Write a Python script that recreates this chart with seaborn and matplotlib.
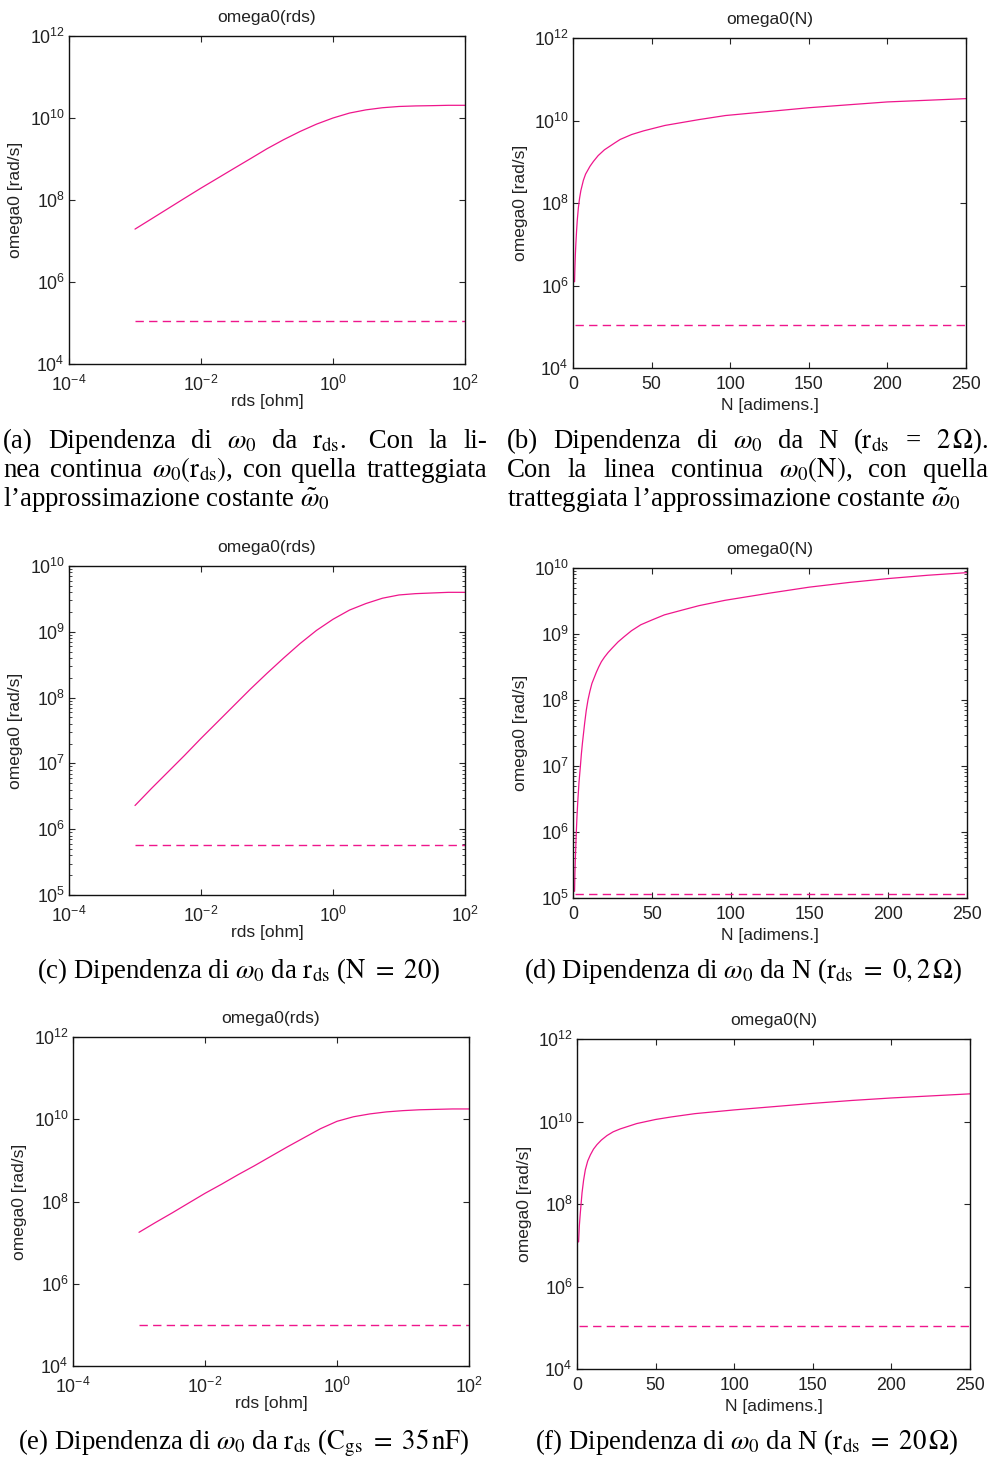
import matplotlib
matplotlib.use('Agg')
import matplotlib.pyplot as plt
import matplotlib.ticker as mticker
import seaborn as sns

# ── Valori ──────────────────────────────────────────────────────────────
rds = [1e-3, 1.78e-3, 3.16e-3, 5.62e-3, 1e-2, 1.78e-2, 3.16e-2, 5.62e-2,
       0.1, 0.178, 0.316, 0.562, 1.0, 1.78, 3.16, 5.62, 10.0, 17.8, 31.6, 56.2, 100.0]

omega_rds_a = [1.95e7, 3.47e7, 6.17e7, 1.10e8, 1.95e8, 3.39e8, 5.89e8, 1.02e9,
               1.78e9, 2.95e9, 4.68e9, 7.08e9, 1.00e10, 1.32e10, 1.58e10, 1.78e10,
               1.91e10, 1.97e10, 2.00e10, 2.04e10, 2.04e10]
omega_rds_c = [2.29e6, 4.17e6, 7.41e6, 1.32e7, 2.40e7, 4.27e7, 7.59e7, 1.35e8,
               2.34e8, 3.98e8, 6.61e8, 1.05e9, 1.55e9, 2.14e9, 2.69e9, 3.24e9,
               3.63e9, 3.80e9, 3.89e9, 3.98e9, 3.98e9]
omega_rds_e = [1.78e7, 3.09e7, 5.25e7, 9.12e7, 1.58e8, 2.63e8, 4.47e8, 7.41e8,
               1.26e9, 2.14e9, 3.55e9, 5.89e9, 8.91e9, 1.15e10, 1.35e10, 1.51e10,
               1.62e10, 1.70e10, 1.74e10, 1.78e10, 1.78e10]

rds_costante = [1e-3, 1e2]
costante_a = [1.1e5, 1.1e5]
costante_c = [5.75e5, 5.75e5]
costante_e = [1.0e5, 1.0e5]

N_b = [1, 1.2, 1.5, 1.8, 2.3, 2.7, 3.4, 4.2, 5, 6.6, 8, 10.8, 13, 16, 20, 26.7,
       30, 37.3, 45, 58.5, 80, 97, 125, 150, 175, 200, 225, 250]
omega_N_b = [1.23e6, 2.51e6, 5.62e6, 1.0e7, 2.19e7, 3.72e7, 7.59e7, 1.32e8,
             2.0e8, 3.55e8, 5.01e8, 7.76e8, 1.02e9, 1.41e9, 1.95e9, 2.88e9,
             3.47e9, 4.57e9, 5.62e9, 7.59e9, 1.05e10, 1.32e10, 1.66e10, 2.04e10,
             2.40e10, 2.82e10, 3.09e10, 3.39e10]

N_d = [1, 1.2, 1.5, 2.1, 2.5, 3, 3.8, 4.7, 5.3, 6, 7.4, 8.4, 9.5, 10.7, 12, 14.8,
       16.3, 18, 20, 22.3, 25, 28.6, 32.5, 37.1, 43, 49.8, 58, 68.9, 80, 96.5,
       125, 150, 175, 200, 225, 250]
omega_N_d = [1.26e5, 2.24e5, 3.98e5, 1.0e6, 1.66e6, 2.82e6, 5.62e6, 1.0e7,
             1.51e7, 2.24e7, 4.47e7, 6.92e7, 1.0e8, 1.35e8, 1.78e8, 2.63e8,
             3.16e8, 3.80e8, 4.47e8, 5.25e8, 6.17e8, 7.59e8, 9.12e8, 1.12e9,
             1.38e9, 1.62e9, 1.95e9, 2.29e9, 2.69e9, 3.24e9,
             4.17e9, 5.13e9, 6.03e9, 6.92e9, 7.76e9, 8.51e9]

N_f = [1, 1.5, 2.1, 3.2, 4.2, 5.3, 6.8, 8.5, 10.5, 12.7, 15.5, 19.1, 23, 27.5,
       38, 50, 60, 75, 100, 125, 150, 175, 200, 225, 250]
omega_N_f = [1.20e7, 3.0e7, 6.03e7, 1.86e8, 3.80e8, 6.76e8, 1.10e9, 1.55e9,
             2.14e9, 2.75e9, 3.55e9, 4.57e9, 5.62e9, 6.61e9, 8.91e9, 1.12e10,
             1.29e10, 1.55e10, 1.91e10, 2.29e10, 2.75e10, 3.24e10, 3.72e10,
             4.17e10, 4.68e10]

N_costante = [1, 250]
costante_b = [1.1e5, 1.1e5]
costante_d = [1.15e5, 1.15e5]
costante_f = [1.1e5, 1.1e5]

# ── Stile ────────────────────────────────────────────────────────────────
sns.set_theme(style='ticks')
plt.rcParams['font.family'] = ['Liberation Sans', 'DejaVu Sans']
plt.rcParams['axes.linewidth'] = 1.0
plt.rcParams['axes.edgecolor'] = '#111111'
plt.rcParams['axes.unicode_minus'] = False
plt.rcParams['text.color'] = '#222222'

ROSA = '#ef168c'
W, H = 991, 1459
fig = plt.figure(figsize=(W / 100, H / 100), dpi=100)
fig.patch.set_facecolor('white')


def nuovo_asse(left, right, top, bottom):
    return fig.add_axes([left / W, 1 - bottom / H, (right - left) / W, (bottom - top) / H])


def pannello(ax, x, y, xc, yc, titolo, xlabel, log_x, ylim, yticks, minori):
    ax.set_yscale('log')
    if log_x:
        ax.set_xscale('log')
    sns.lineplot(x=x, y=y, ax=ax, color=ROSA, lw=0.9, sort=False, estimator=None)
    sns.lineplot(x=xc, y=yc, ax=ax, color=ROSA, lw=1.0, sort=False, estimator=None,
                 linestyle=(0, (6.0, 3.8)))
    ax.set_facecolor('white')
    ax.set_ylim(*ylim)
    ax.set_yticks(yticks)
    ax.yaxis.set_major_formatter(mticker.LogFormatterSciNotation())
    if minori:
        ax.yaxis.set_minor_locator(mticker.LogLocator(base=10, subs=range(2, 10)))
    else:
        ax.yaxis.set_minor_locator(mticker.NullLocator())
    ax.yaxis.set_minor_formatter(mticker.NullFormatter())
    if log_x:
        ax.set_xlim(1e-4, 1e2)
        ax.set_xticks([1e-4, 1e-2, 1, 1e2])
        ax.xaxis.set_major_formatter(mticker.LogFormatterSciNotation())
        ax.xaxis.set_minor_locator(mticker.NullLocator())
        xpad = 7.5
    else:
        ax.set_xlim(0, 250)
        ax.set_xticks([0, 50, 100, 150, 200, 250])
        xpad = 5.5
    ax.tick_params(which='major', direction='in', top=True, right=True, length=4,
                   width=0.8, labelsize=12.8, labelcolor='#222222')
    ax.tick_params(which='minor', direction='in', top=False, right=True, length=2,
                   width=0.6)
    ax.tick_params(axis='x', which='major', pad=xpad)
    ax.tick_params(axis='y', which='major', pad=3)
    ax.set_title(titolo, fontsize=12.5, pad=10, color='#222222')
    ax.set_xlabel(xlabel, fontsize=12.5, color='#222222')
    ax.set_ylabel('omega0 [rad/s]', fontsize=12.5, color='#222222')
    ax.xaxis.set_label_coords(0.5, -0.092)
    ax.yaxis.set_label_coords(-0.115, 0.5)
    for s in ax.spines.values():
        s.set_visible(True)


ax_a = nuovo_asse(69, 465, 36, 364)
pannello(ax_a, rds, omega_rds_a, rds_costante, costante_a, 'omega0(rds)', 'rds [ohm]',
         True, (1e4, 1e12), [1e4, 1e6, 1e8, 1e10, 1e12], False)
ax_b = nuovo_asse(573, 966, 38, 368)
pannello(ax_b, N_b, omega_N_b, N_costante, costante_b, 'omega0(N)', 'N [adimens.]',
         False, (1e4, 1e12), [1e4, 1e6, 1e8, 1e10, 1e12], False)
ax_c = nuovo_asse(69, 465, 566, 895)
pannello(ax_c, rds, omega_rds_c, rds_costante, costante_c, 'omega0(rds)', 'rds [ohm]',
         True, (1e5, 1e10), [1e5, 1e6, 1e7, 1e8, 1e9, 1e10], True)
ax_d = nuovo_asse(573, 967, 568, 898)
pannello(ax_d, N_d, omega_N_d, N_costante, costante_d, 'omega0(N)', 'N [adimens.]',
         False, (1e5, 1e10), [1e5, 1e6, 1e7, 1e8, 1e9, 1e10], True)
ax_e = nuovo_asse(73, 469, 1037, 1366)
pannello(ax_e, rds, omega_rds_e, rds_costante, costante_e, 'omega0(rds)', 'rds [ohm]',
         True, (1e4, 1e12), [1e4, 1e6, 1e8, 1e10, 1e12], False)
ax_f = nuovo_asse(577, 970, 1039, 1369)
pannello(ax_f, N_f, omega_N_f, N_costante, costante_f, 'omega0(N)', 'N [adimens.]',
         False, (1e4, 1e12), [1e4, 1e6, 1e8, 1e10, 1e12], False)

# ── Didascalie ──────────────────────────────────────────────────────────
CAP = dict(fontsize=19.3, family=['Liberation Serif', 'DejaVu Serif'],
           math_fontfamily='stix', color='black', va='baseline')
renderer = fig.canvas.get_renderer()


def riga_giustificata(parole, x0, x1, y):
    testi = [fig.text(0, 1 - y / H, p, ha='left', **CAP) for p in parole]
    larghezze = [t.get_window_extent(renderer).width for t in testi]
    spazio = (x1 - x0 - sum(larghezze)) / (len(parole) - 1)
    x = x0
    for t, w in zip(testi, larghezze):
        t.set_x(x / W)
        x += w + spazio


def riga(testo, x, y, ha='left'):
    fig.text(x / W, 1 - y / H, testo, ha=ha, **CAP)


w0 = r'$\omega_0$'
rd = r'$\mathrm{r}_{\mathrm{ds}}$'

riga_giustificata(['(a)', 'Dipendenza', 'di', w0, 'da', rd + '.', ' Con', 'la', 'li-'], 3, 487, 448)
riga_giustificata(['nea', 'continua', r'$\omega_0(\mathrm{r}_{\mathrm{ds}})$,', 'con', 'quella',
                   'tratteggiata'], 3, 487, 477)
riga('l’approssimazione costante ' + r'$\tilde{\omega}_0$', 3, 506)

riga_giustificata(['(b)', 'Dipendenza', 'di', w0, 'da', 'N', '(' + rd, '=', r'$2\,\Omega$).'],
                  507, 988, 448)
riga_giustificata(['Con', 'la', 'linea', 'continua', r'$\omega_0(\mathrm{N})$,', 'con', 'quella'],
                  507, 988, 477)
riga('tratteggiata l’approssimazione costante ' + r'$\tilde{\omega}_0$', 507, 506)

riga('(c) Dipendenza di ' + w0 + ' da ' + rd + r' ($\mathrm{N}\ =\ 20$)', 239, 978, 'center')
riga('(d) Dipendenza di ' + w0 + ' da N (' + rd + r'$\ =\ 0,2\,\Omega$)', 743, 978, 'center')
riga('(e) Dipendenza di ' + w0 + ' da ' + rd + r' ($\mathrm{C}_{\mathrm{gs}}\ =\ 35\,\mathrm{nF}$)',
     244, 1449, 'center')
riga('(f) Dipendenza di ' + w0 + ' da N (' + rd + r'$\ =\ 20\,\Omega$)', 747, 1449, 'center')

plt.savefig('out.png', dpi=100, facecolor='white')
